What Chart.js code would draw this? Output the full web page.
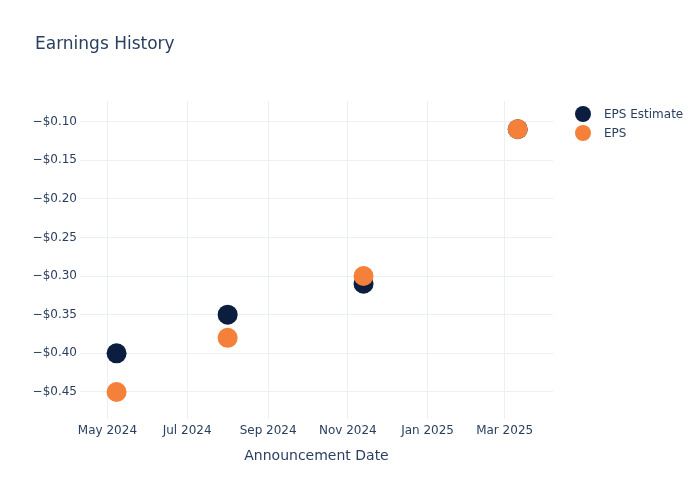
<!DOCTYPE html>
<html>
<head>
<meta charset="utf-8">
<script src="https://cdn.jsdelivr.net/npm/chart.js@4.4.1/dist/chart.umd.min.js"></script>
<style>
  html, body { margin: 0; padding: 0; background: #fff; }
  #wrap { width: 700px; height: 500px; position: relative; }
</style>
</head>
<body>
<div id="wrap"><canvas id="epsChart" width="700" height="500"></canvas></div>
<script>
var announceDates = ['2024-05-08', '2024-08-01', '2024-11-13', '2025-03-11'];
var epsEstimate = [-0.40, -0.35, -0.31, -0.11];
var epsActual = [-0.45, -0.38, -0.30, -0.11];
var xTickDates = ['2024-05-01', '2024-07-01', '2024-09-01', '2024-11-01', '2025-01-01', '2025-03-01'];
var xTickLabels = ['May 2024', 'Jul 2024', 'Sep 2024', 'Nov 2024', 'Jan 2025', 'Mar 2025'];
var yTicks = [-0.45, -0.40, -0.35, -0.30, -0.25, -0.20, -0.15, -0.10];

(function () {
    function ts(s) {
        var p = s.split('-');
        return Date.UTC(+p[0], p[1] - 1, +p[2]);
    }

    var textColor = '#2a3f5f';
    var gridColor = '#ebf0f8';
    var font = 'DejaVu Sans, sans-serif';

    function points(values) {
        return announceDates.map(function (d, i) { return { x: ts(d), y: values[i] }; });
    }

    // title + legend drawn by hand so they sit where plotly put them
    var extras = {
        id: 'extras',
        afterDraw: function (chart) {
            var ctx = chart.ctx;
            ctx.save();
            ctx.fillStyle = textColor;
            ctx.font = '17px ' + font;
            ctx.textBaseline = 'middle';
            ctx.textAlign = 'left';
            ctx.fillText('Earnings History', 35, 45);

            var items = [chart.data.datasets[0], chart.data.datasets[1]];
            items.forEach(function (ds, i) {
                var y = 114 + i * 19;
                ctx.beginPath();
                ctx.arc(583, y, 8, 0, Math.PI * 2);
                ctx.fillStyle = ds.backgroundColor;
                ctx.fill();
                ctx.fillStyle = textColor;
                ctx.font = '12px ' + font;
                ctx.fillText(ds.label, 604, y + 1);
            });
            ctx.restore();
        }
    };

    new Chart(document.getElementById('epsChart').getContext('2d'), {
        type: 'scatter',
        data: {
            datasets: [
                {
                    label: 'EPS Estimate',
                    data: points(epsEstimate),
                    backgroundColor: '#0b1e3f',
                    borderColor: '#0b1e3f',
                    pointRadius: 10,
                    pointHoverRadius: 10,
                    borderWidth: 0,
                    order: 1,
                },
                {
                    label: 'EPS',
                    data: points(epsActual),
                    backgroundColor: '#f5803a',
                    borderColor: '#f5803a',
                    pointRadius: 10,
                    pointHoverRadius: 10,
                    borderWidth: 0,
                    order: 0,
                },
            ],
        },
        options: {
            responsive: false,
            animation: false,
            layout: { padding: { left: 0, top: 101, right: 147, bottom: 35 } },
            plugins: {
                legend: { display: false },
                title: { display: false },
                tooltip: { enabled: false },
            },
            scales: {
                x: {
                    type: 'linear',
                    min: ts('2024-04-10'),
                    max: ts('2025-04-07'),
                    afterFit: function (s) { s.height = 46; },
                    afterBuildTicks: function (s) {
                        s.ticks = xTickDates.map(function (d) { return { value: ts(d) }; });
                    },
                    grid: { color: gridColor, drawTicks: false },
                    border: { display: false },
                    ticks: {
                        color: textColor,
                        padding: 5,
                        maxRotation: 0,
                        font: { family: font, size: 12 },
                        callback: function (v) {
                            var i = xTickDates.map(ts).indexOf(v);
                            return i >= 0 ? xTickLabels[i] : '';
                        },
                    },
                    title: {
                        display: true,
                        text: 'Announcement Date',
                        color: textColor,
                        padding: 0,
                        font: { family: font, size: 14 },
                    },
                },
                y: {
                    min: -0.485,
                    max: -0.0735,
                    afterFit: function (s) { s.width = 80; },
                    afterBuildTicks: function (s) {
                        s.ticks = yTicks.map(function (v) { return { value: v }; });
                    },
                    grid: { color: gridColor, drawTicks: false },
                    border: { display: false },
                    ticks: {
                        color: textColor,
                        padding: 3,
                        font: { family: font, size: 12 },
                        callback: function (v) {
                            var a = Math.abs(v).toFixed(2);
                            return (v < 0 ? '\u2212$' : '$') + a;
                        },
                    },
                },
            },
        },
        plugins: [extras],
    });
})();
</script>
</body>
</html>
